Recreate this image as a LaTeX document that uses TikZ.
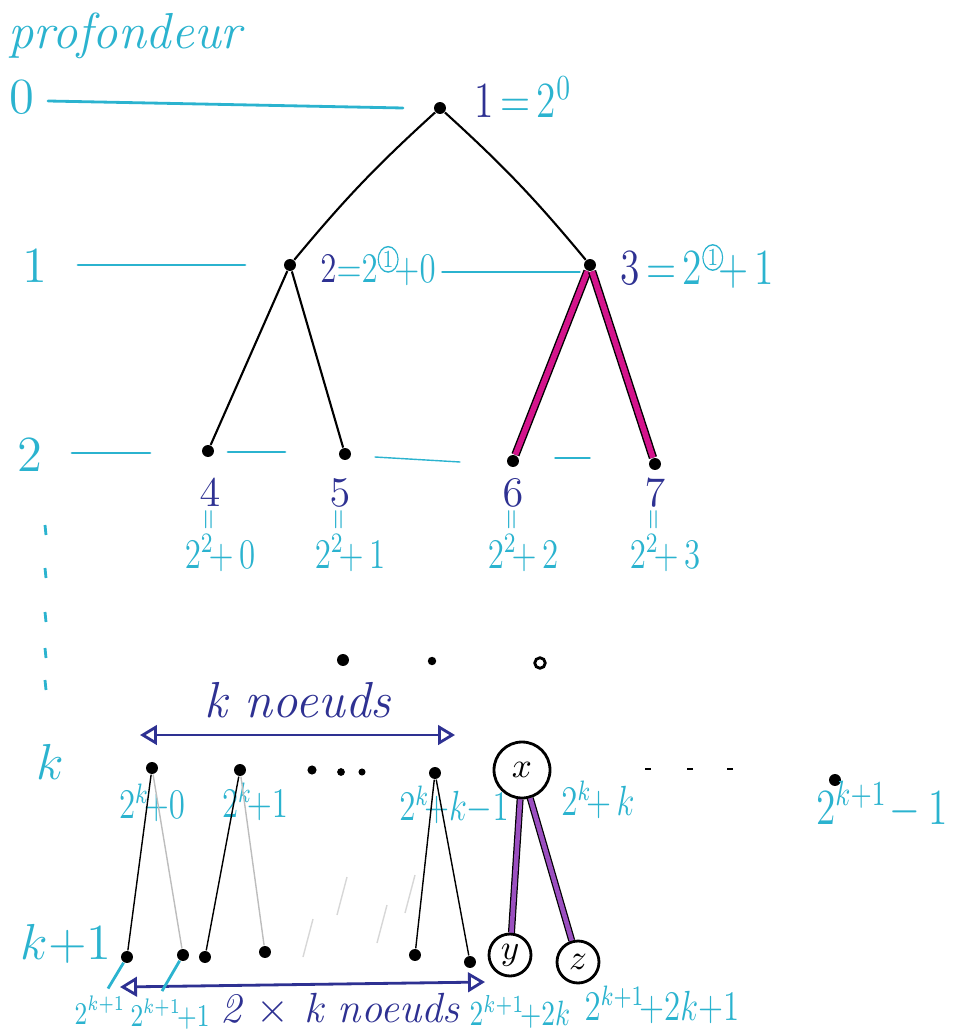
\documentclass[tikz,border=0pt]{standalone}
\usepackage{tikz}
\usetikzlibrary{arrows.meta,positioning,calc}
\usepackage{xcolor}
\usepackage{amsmath}
\usepackage{graphicx}
\definecolor{depth}{HTML}{2BB3CF}
\definecolor{index}{HTML}{2E3192}
\definecolor{path}{HTML}{D4148C}
\definecolor{subtree}{HTML}{9B4FC0}
\definecolor{faint}{HTML}{BDBDBD}
\newcommand{\ringed}[1]{\tikz[baseline=(rc.base)]\node[draw=depth,circle,inner sep=0.4pt] (rc) {\scriptsize #1};}
\newcommand{\hand}[1]{\scalebox{0.78}[1]{#1}}

\begin{document}
\begin{tikzpicture}[
  dot/.style={circle,fill=black,inner sep=0pt,minimum size=3.4pt},
  letter/.style={circle,draw,thick,inner sep=0pt},
  edge/.style={black,semithick},
  guide/.style={depth,thick,line cap=round},
  span/.style={index,thick,{Triangle[open]}-{Triangle[open]}},
  lbl/.style={depth,font=\large},
]
  \useasboundingbox (0,0) rectangle (9.56,-10.34);

  % depth column
  \node[depth,font=\Large\itshape] (prof) at (1.25,-0.36) {profondeur};
  \node[lbl,font=\Large] (d0) at (0.22,-0.97) {$0$};
  \node[lbl,font=\Large] (d1) at (0.35,-2.66) {$1$};
  \node[lbl,font=\Large] (d2) at (0.30,-4.55) {$2$};
  \node[lbl,font=\Large] (dk) at (0.50,-7.62) {$k$};
  \node[lbl,font=\Large] (dk1) at (0.66,-9.44) {$k{+}1$};
  \foreach \y in {5.25,5.68,6.12,6.48,6.80} {
    \draw[depth,thick] (0.45,-\y) -- ++(0.01,-0.10);
  }
  \draw[guide] (0.48,-1.01) -- (4.03,-1.08);
  \draw[guide] (0.78,-2.65) -- (2.45,-2.65);
  \draw[guide,thin] (4.42,-2.72) -- (5.80,-2.72);
  \draw[guide] (0.72,-4.53) -- (1.50,-4.53);
  \draw[guide] (2.28,-4.52) -- (2.85,-4.52);
  \draw[guide,thin] (3.75,-4.57) -- (4.60,-4.62);
  \draw[guide,thin] (5.55,-4.58) -- (5.90,-4.58);

  % first levels
  \node[dot] (n1) at (4.40,-1.08) {};
  \node[dot] (n2) at (2.90,-2.65) {};
  \node[dot] (n3) at (5.90,-2.65) {};
  \node[dot] (n4) at (2.08,-4.51) {};
  \node[dot] (n5) at (3.45,-4.54) {};
  \node[dot] (n6) at (5.13,-4.61) {};
  \node[dot] (n7) at (6.55,-4.64) {};
  \draw[edge] (n1) to[bend right=4] (n2);
  \draw[edge] (n1) to[bend left=4] (n3);
  \draw[edge] (n2) -- (n4);
  \draw[edge] (n2) -- (n5);
  \foreach \c in {n6,n7} {
    \draw[black,line width=2.4pt] (n3) -- (\c);
    \draw[path,line width=1.6pt] (n3) -- (\c);
  }

  \node[font=\Large,anchor=west] (t1) at (4.62,-0.97)
    {\hand{\textcolor{index}{$1$}\,\textcolor{depth}{${=}\,2^0$}}};
  \node[font=\large,anchor=west] (t2) at (3.08,-2.66)
    {\hand{\textcolor{index}{$2$}\textcolor{depth}{${=}2^{\ringed{1}}\!{+}0$}}};
  \node[font=\Large,anchor=west] (t3) at (6.08,-2.66)
    {\hand{\textcolor{index}{$3$}\,\textcolor{depth}{${=}\,2^{\ringed{1}}\!{+}\,1$}}};

  % level 2 values
  \foreach \v/\x/\s in {4/2.10/0,5/3.40/1,6/5.13/2,7/6.55/3} {
    \node[index,font=\large] (v\v) at (\x,-4.93) {$\v$};
    \node[depth,rotate=90,font=\scriptsize] (e\v) at (\x,-5.20) {$=$};
    \node[lbl] (f\v) at (\x+0.10,-5.53) {\hand{$2^2\!{+}\,\s$}};
  }

  % dots between
  \node[dot] (m1) at (3.43,-6.60) {};
  \node[dot,minimum size=2.4pt] (m2) at (4.32,-6.61) {};
  \node[circle,draw,thick,inner sep=0pt,minimum size=3pt] (m3) at (5.40,-6.63) {};

  % level k
  \node[dot] (a0) at (1.52,-7.68) {};
  \node[dot] (a1) at (2.40,-7.70) {};
  \node[dot,minimum size=2.6pt] (a2) at (3.12,-7.70) {};
  \node[dot,minimum size=2.2pt] (a3) at (3.41,-7.72) {};
  \node[dot,minimum size=2pt] (a4) at (3.62,-7.72) {};
  \node[dot] (ak) at (4.35,-7.73) {};
  \node[letter,minimum size=0.56cm] (x) at (5.22,-7.70) {$x$};
  \foreach \x in {6.45,6.87,7.27} {
    \draw[black,thin] (\x,-7.69) -- ++(0.06,0);
  }
  \node[dot] (al) at (8.35,-7.80) {};
  \coordinate (ka) at (1.40,-7.35);
  \coordinate (kb) at (4.55,-7.35);
  \draw[span] (ka) -- node[above=1pt,font=\Large\itshape] (kn) {k noeuds} (kb);

  \node[lbl] (g0) at (1.52,-8.03) {\hand{$2^k\!{+}0$}};
  \node[lbl] (g1) at (2.55,-8.02) {\hand{$2^k\!{+}1$}};
  \node[lbl] (gk) at (4.54,-8.05) {\hand{$2^k\!{+}k{-}1$}};
  \node[lbl] (gx) at (5.98,-8.00) {\hand{$2^k\!{+}\,k$}};
  \node[lbl,font=\Large] (gl) at (8.82,-8.05) {\hand{$2^{k+1}\!-1$}};

  % level k+1
  \node[dot] (b0) at (1.27,-9.57) {};
  \node[dot] (b1) at (1.83,-9.55) {};
  \node[dot] (b2) at (2.05,-9.57) {};
  \node[dot] (b3) at (2.65,-9.52) {};
  \node[dot] (b4) at (4.15,-9.55) {};
  \node[dot] (b5) at (4.70,-9.62) {};
  \node[letter,minimum size=0.42cm] (y) at (5.10,-9.55) {$y$};
  \node[letter,minimum size=0.42cm] (z) at (5.78,-9.62) {$z$};
  \draw[edge,thin] (a0) -- (b0);
  \draw[faint,thin] (a0) -- (b1);
  \draw[edge,thin] (a1) -- (b2);
  \draw[faint,thin] (a1) -- (b3);
  \draw[edge,thin] (ak) -- (b4);
  \draw[edge,thin] (ak) -- (b5);
  \foreach \p/\q in {3.03/9.57, 3.37/9.15, 3.77/9.43, 4.05/9.13} {
    \draw[faint!60,thin] (\p,-\q) -- ++(0.10,0.38);
  }
  \foreach \c in {y,z} {
    \draw[black,line width=2pt] (x) -- (\c);
    \draw[subtree,line width=1.3pt] (x) -- (\c);
  }

  \coordinate (ma) at (1.20,-9.87);
  \coordinate (mb) at (4.85,-9.82);
  \draw[span] (ma) -- (mb);
  \node[index,font=\large\itshape] (mn) at (3.40,-10.10) {2 $\times$ k noeuds};

  \node[lbl,font=\small] (h0) at (1.00,-10.10) {\hand{$2^{k{+}1}$}};
  \node[lbl,font=\small] (h1) at (1.70,-10.14) {\hand{$2^{k{+}1}\!{+}1$}};
  \node[lbl,font=\normalsize] (h2) at (5.20,-10.12) {\hand{$2^{k{+}1}\!{+}2k$}};
  \node[lbl] (h3) at (6.62,-10.05) {\hand{$2^{k{+}1}\!{+}2k{+}1$}};
  \draw[depth,thick] (b0) -- ($(h0.north)+(0.08,-0.05)$);
  \draw[depth,thick] (b1) -- ($(h1.north)+(-0.08,-0.05)$);
\end{tikzpicture}
\end{document}
